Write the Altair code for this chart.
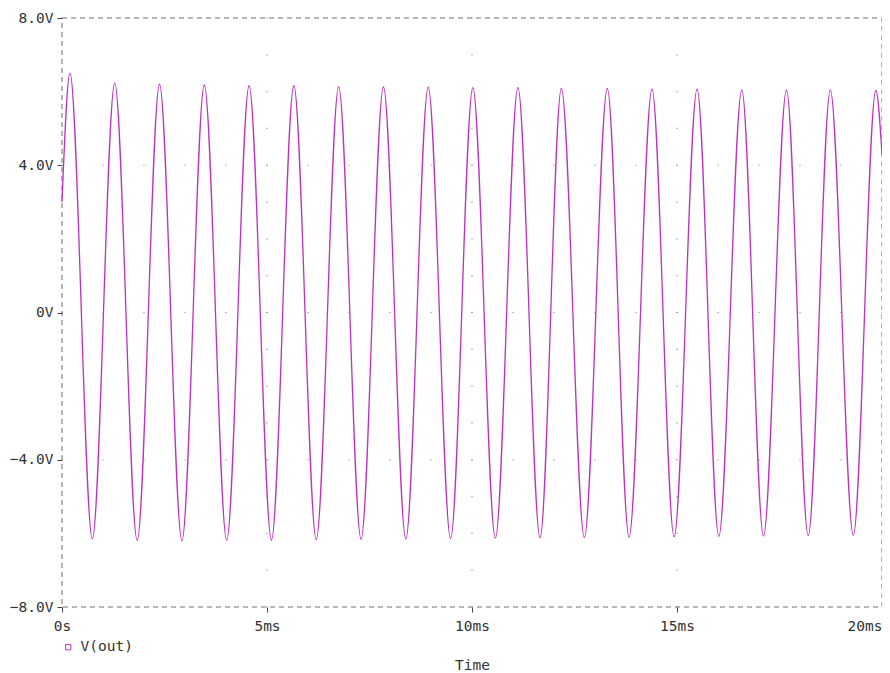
import altair as alt
import pandas as pd

# Waveform landmarks (time in ms, voltage in V)
start_t = [0.0]
start_v = [3.0]
peak_t = [0.194, 1.286, 2.379, 3.471, 4.563, 5.655, 6.748, 7.840, 8.932, 10.02,
          11.12, 12.18, 13.30, 14.39, 15.49, 16.58, 17.67, 18.74, 19.85]
peak_v = [6.50, 6.23, 6.20, 6.18, 6.16, 6.16, 6.13, 6.13, 6.12, 6.11,
          6.11, 6.09, 6.09, 6.07, 6.07, 6.05, 6.04, 6.04, 6.03]
trough_t = [0.740, 1.833, 2.925, 4.017, 5.109, 6.201, 7.294, 8.386, 9.478, 10.57,
            11.66, 12.74, 13.83, 14.93, 16.02, 17.11, 18.20, 19.30]
trough_v = [-6.15, -6.19, -6.20, -6.19, -6.18, -6.17, -6.16, -6.15, -6.14, -6.13,
            -6.12, -6.11, -6.10, -6.09, -6.08, -6.07, -6.06, -6.05]
end_t = [20.0]
end_v = [4.3]

x_ticks = [0, 5, 10, 15, 20]
y_ticks = [-8, -4, 0, 4, 8]
grid_rows = [-4, 0, 4]
grid_cols = [5, 10, 15]
minor_x = list(range(0, 21))
minor_y = list(range(-8, 9))

t_all = start_t + peak_t + trough_t + end_t
v_all = start_v + peak_v + trough_v + end_v
wave = pd.DataFrame({"t": t_all, "v": v_all, "series": "V(out)"}).sort_values("t")

dots = []
for r in grid_rows:
    for c in minor_x:
        dots.append({"t": c, "v": r})
for c in grid_cols:
    for r in minor_y:
        dots.append({"t": c, "v": r})
dots = pd.DataFrame(dots)

FONT = "DejaVu Sans Mono"
FS = 14.5
MAG = "#c030c0"

xscale = alt.Scale(domain=[0, 20], nice=False, zero=False)
yscale = alt.Scale(domain=[-8, 8], nice=False, zero=False)

xaxis = alt.Axis(
    values=x_ticks,
    labelExpr="datum.value == 0 ? '0s' : datum.value + 'ms'",
    labelAlign={"condition": {"test": "datum.value == 20", "value": "right"}, "value": "center"},
    title="Time",
    grid=False,
    domain=False,
    tickSize=5,
    labelPadding=7,
    titlePadding=26,
)
yaxis = alt.Axis(
    values=y_ticks,
    labelExpr="datum.value == 0 ? '0V' : format(datum.value, '.1f') + 'V'",
    title=None,
    grid=False,
    domain=False,
    tickSize=5,
    labelPadding=4,
)

grid_layer = alt.Chart(dots).mark_square(size=1.5, color="#888", opacity=0.9).encode(
    x=alt.X("t:Q", scale=xscale, axis=xaxis),
    y=alt.Y("v:Q", scale=yscale, axis=yaxis),
)

line_layer = alt.Chart(wave).mark_line(interpolate="monotone", strokeWidth=1.3).encode(
    x=alt.X("t:Q", scale=xscale),
    y=alt.Y("v:Q", scale=yscale),
    color=alt.Color(
        "series:N",
        scale=alt.Scale(domain=["V(out)"], range=[MAG]),
        legend=alt.Legend(
            title=None,
            orient="none",
            legendX=-1,
            legendY=622,
            symbolType="square",
            symbolSize=28,
            symbolStrokeWidth=1,
            labelFont=FONT,
            labelFontSize=FS,
            labelColor="#333",
            labelOffset=5,
        ),
    ),
)

chart = alt.layer(grid_layer, line_layer).properties(
    width=820,
    height=589,
    background="white",
    autosize=alt.AutoSizeParams(type="none"),
    padding={"left": 54, "top": 10, "right": 0, "bottom": 68},
).configure_view(
    stroke="#a0a0a0",
    strokeDash=[5, 4],
    strokeWidth=1.5,
).configure_axis(
    labelFont=FONT,
    labelFontSize=FS,
    labelColor="#333",
    titleFont=FONT,
    titleFontSize=FS,
    titleColor="#333",
    titleFontWeight="normal",
    tickColor="#444",
)

chart.save("out.html", embed_options={"renderer": "svg", "actions": False})
